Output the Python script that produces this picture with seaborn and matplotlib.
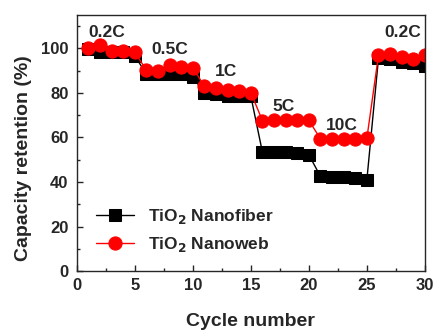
import matplotlib
matplotlib.use("Agg")
import matplotlib.pyplot as plt
import seaborn as sns
import pandas as pd
from matplotlib.ticker import MultipleLocator

cycles = list(range(1, 31))
nanofiber = [99.5, 98.5, 98.5, 98.3, 96.5,
             88.5, 88.5, 88.5, 88.5, 87.0,
             80.0, 79.5, 78.8, 78.5, 78.5,
             53.3, 53.3, 53.3, 53.2, 52.2,
             42.5, 42.3, 42.3, 42.0, 41.0,
             95.5, 95.0, 93.8, 93.5, 92.0]
nanoweb = [100.0, 101.6, 98.8, 98.8, 98.2,
           90.2, 89.8, 92.4, 91.6, 91.2,
           83.0, 82.2, 81.5, 80.9, 80.1,
           67.5, 67.7, 67.7, 67.7, 67.7,
           59.3, 59.5, 59.5, 59.5, 59.6,
           96.9, 97.3, 96.1, 95.2, 96.9]
rate_labels = ["0.2C", "0.5C", "1C", "5C", "10C", "0.2C"]
rate_x = [2.6, 8.0, 12.9, 17.8, 22.8, 28.1]
rate_y = [107.3, 99.4, 89.8, 74.0, 65.5, 107.3]

sns.set_style("ticks")
plt.rcParams['font.family'] = ['Liberation Sans', 'DejaVu Sans']
plt.rcParams['font.weight'] = 'bold'

df = pd.DataFrame({"cycle": cycles, "fiber": nanofiber, "web": nanoweb})

fig = plt.figure(figsize=(4.34, 3.31), dpi=100)
ax = fig.add_axes([0.177, 0.181, 0.802, 0.774])

sns.lineplot(data=df, x="cycle", y="fiber", ax=ax, color="black", marker="s",
             markersize=8.5, markeredgecolor="black", linewidth=1.0,
             label="TiO$_2$ Nanofiber")
sns.lineplot(data=df, x="cycle", y="web", ax=ax, color="red", marker="o",
             markersize=9.5, markeredgecolor="red", linewidth=1.0,
             label="TiO$_2$ Nanoweb")

for t, x, y in zip(rate_labels, rate_x, rate_y):
    ax.text(x, y, t, ha="center", va="center", fontsize=12.5, fontweight="bold")

ax.set_xlim(0, 30)
ax.set_ylim(0, 115)
ax.xaxis.set_major_locator(MultipleLocator(5))
ax.xaxis.set_minor_locator(MultipleLocator(2.5))
ax.yaxis.set_major_locator(MultipleLocator(20))
ax.yaxis.set_minor_locator(MultipleLocator(10))
ax.tick_params(which="both", direction="in", top=False, right=False,
               labelsize=12, width=1.0)
ax.tick_params(which="major", length=4)
ax.tick_params(which="minor", length=2)
ax.tick_params(axis="y", pad=6)
ax.tick_params(axis="x", pad=5)
for lab in ax.get_xticklabels() + ax.get_yticklabels():
    lab.set_fontweight("bold")
for s in ax.spines.values():
    s.set_linewidth(1.0)
    s.set_visible(True)

ax.set_xlabel("Cycle number", fontsize=14, fontweight="bold")
ax.set_ylabel("Capacity retention (%)", fontsize=14, fontweight="bold")
ax.xaxis.set_label_coords(0.5, -0.165)
ax.yaxis.set_label_coords(-0.128, 0.44)

leg = ax.legend(loc="lower left", bbox_to_anchor=(0.02, 0.02), frameon=False,
                fontsize=12.5, handlelength=2.2, labelspacing=0.5, borderaxespad=0.3)
for t in leg.get_texts():
    t.set_fontweight("bold")

fig.savefig("out.png", dpi=100)
